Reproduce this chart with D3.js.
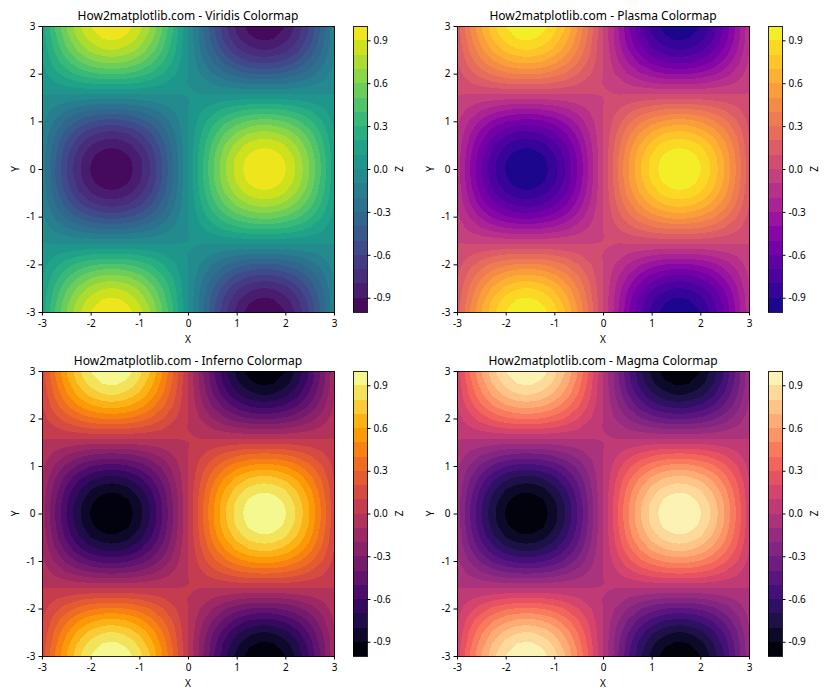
<!DOCTYPE html>
<html><head><meta charset="utf-8">
<script src="https://cdn.jsdelivr.net/npm/d3@7"></script>
<style>
html,body{margin:0;padding:0;background:#fff}
svg{display:block}
text{font-family:"Noto Sans","Open Sans",sans-serif;fill:#000}
</style></head><body><div id="chart"></div>
<script>
// Field on a 25x25 lattice, x and y from -3 to 3 in 0.25 steps.
const rowY300=[.140,.378,.592,.770,.900,.974,.987,.940,.833,.675,.474,.245,0,-.245,-.474,-.675,-.833,-.940,-.987,-.974,-.900,-.770,-.592,-.378,-.140];
const rowY275=[.130,.353,.553,.719,.840,.909,.921,.877,.777,.630,.443,.228,0,-.228,-.443,-.630,-.777,-.877,-.921,-.909,-.840,-.719,-.553,-.353,-.130];
const rowY250=[.113,.306,.479,.623,.728,.788,.799,.760,.674,.546,.384,.198,0,-.198,-.384,-.546,-.674,-.760,-.799,-.788,-.728,-.623,-.479,-.306,-.113];
const rowY225=[.089,.240,.376,.489,.571,.618,.626,.596,.528,.428,.301,.155,0,-.155,-.301,-.428,-.528,-.596,-.626,-.618,-.571,-.489,-.376,-.240,-.089];
const rowY200=[.059,.159,.249,.324,.378,.409,.415,.395,.350,.284,.199,.103,0,-.103,-.199,-.284,-.350,-.395,-.415,-.409,-.378,-.324,-.249,-.159,-.059];
const rowY175=[.025,.068,.106,.138,.162,.175,.177,.169,.150,.121,.085,.044,0,-.044,-.085,-.121,-.150,-.169,-.177,-.175,-.162,-.138,-.106,-.068,-.025];
const rowY150=[-.010,-.027,-.042,-.055,-.065,-.070,-.071,-.067,-.060,-.048,-.034,-.018,0,.018,.034,.048,.060,.067,.071,.070,.065,.055,.042,.027,.010];
const rowY125=[-.044,-.120,-.188,-.245,-.286,-.310,-.314,-.299,-.265,-.215,-.151,-.078,0,.078,.151,.215,.265,.299,.314,.310,.286,.245,.188,.120,.044];
const rowY100=[-.076,-.206,-.323,-.420,-.491,-.531,-.538,-.512,-.454,-.368,-.259,-.133,0,.133,.259,.368,.454,.512,.538,.531,.491,.420,.323,.206,.076];
const rowY075=[-.103,-.280,-.438,-.569,-.665,-.720,-.730,-.695,-.616,-.499,-.351,-.181,0,.181,.351,.499,.616,.695,.730,.720,.665,.569,.438,.280,.103];
const rowY050=[-.124,-.335,-.525,-.683,-.798,-.864,-.875,-.833,-.738,-.599,-.421,-.217,0,.217,.421,.599,.738,.833,.875,.864,.798,.683,.525,.335,.124];
const rowY025=[-.137,-.370,-.579,-.754,-.881,-.953,-.966,-.920,-.815,-.661,-.464,-.239,0,.239,.464,.661,.815,.920,.966,.953,.881,.754,.579,.370,.137];
const rowY000=[-.141,-.382,-.598,-.778,-.909,-.984,-.997,-.949,-.841,-.682,-.479,-.247,0,.247,.479,.682,.841,.949,.997,.984,.909,.778,.598,.382,.141];
const zRows=[rowY300,rowY275,rowY250,rowY225,rowY200,rowY175,rowY150,rowY125,rowY100,rowY075,rowY050,rowY025,rowY000,
             rowY025,rowY050,rowY075,rowY100,rowY125,rowY150,rowY175,rowY200,rowY225,rowY250,rowY275,rowY300];

const levels=[-1,-.9,-.8,-.7,-.6,-.5,-.4,-.3,-.2,-.1,0,.1,.2,.3,.4,.5,.6,.7,.8,.9,1];
const axisTicks=[-3,-2,-1,0,1,2,3];
const colorbarTicks=[-.9,-.6,-.3,0,.3,.6,.9];
const titles=["How2matplotlib.com - Viridis Colormap","How2matplotlib.com - Plasma Colormap","How2matplotlib.com - Inferno Colormap","How2matplotlib.com - Magma Colormap"];
const ramps=[d3.interpolateViridis,d3.interpolatePlasma,d3.interpolateInferno,d3.interpolateMagma];
const columnLefts=[42,457];
const rowTops=[26,371];
const plotW=292, plotH=[286,285], barGap=19, barW=14;

const svg=d3.select("#chart").append("svg").attr("width",840).attr("height",700);
const nx=zRows[0].length, ny=zRows.length;
const field=d3.merge(zRows);
const bands=d3.pairs(levels);
const contourSets=d3.contours().size([nx,ny]).thresholds(levels.slice(0,-1))(field);

titles.forEach((title,k)=>{
  const left=columnLefts[k%2], top=rowTops[k>>1], h=plotH[k>>1];
  const x=d3.scaleLinear().domain([-3,3]).range([left,left+plotW]);
  const y=d3.scaleLinear().domain([-3,3]).range([top+h,top]);
  // d3.contours places lattice point i at i+0.5
  const gx=d3.scaleLinear().domain([.5,nx-.5]).range(x.domain());
  const gy=d3.scaleLinear().domain([.5,ny-.5]).range(y.domain());
  const ringLine=d3.line().x(p=>x(gx(p[0]))).y(p=>y(gy(p[1]))).curve(d3.curveCatmullRomClosed.alpha(.5));
  const smoothPath=c=>c.coordinates.map(poly=>poly.map(ring=>{
    const pts=ring.slice(0,-1).filter((p,i,a)=>{const q=a[(i+a.length-1)%a.length];return p[0]!==q[0]||p[1]!==q[1];});
    return ringLine(pts);
  }).join("")).join("");
  const color=d3.scaleSequential(ramps[k]).domain([-1,1]);
  const g=svg.append("g");
  const clipId="clip"+k;
  g.append("clipPath").attr("id",clipId).append("rect")
    .attr("x",left).attr("y",top).attr("width",plotW+1).attr("height",h+1);
  g.append("g").attr("clip-path",`url(#${clipId})`).selectAll("path").data(contourSets).join("path")
    .attr("d",smoothPath).attr("fill-rule","evenodd").attr("fill",(d,i)=>color((bands[i][0]+bands[i][1])/2))
    .attr("shape-rendering","crispEdges");

  const xAxis=d3.axisBottom(x).tickValues(axisTicks).tickFormat(String).tickSize(3.5).tickPadding(4.5);
  const yAxis=d3.axisLeft(y).tickValues(axisTicks).tickFormat(String).tickSize(3.5).tickPadding(3);
  const ax=g.append("g").attr("transform",`translate(0,${top+h})`).call(xAxis);
  const ay=g.append("g").attr("transform",`translate(${left},0)`).call(yAxis);
  [ax,ay].forEach(a=>{a.select(".domain").remove();a.selectAll("text").attr("font-size",10);a.attr("font-family",null);});
  g.append("rect").attr("x",left+.5).attr("y",top+.5).attr("width",plotW).attr("height",h)
    .attr("fill","none").attr("stroke","#000").attr("stroke-width",1).attr("stroke-opacity",.85);

  g.append("text").attr("x",left+plotW/2).attr("y",top-6).attr("text-anchor","middle").attr("font-size",12).text(title);
  g.append("text").attr("x",left+plotW/2).attr("y",top+h+31).attr("text-anchor","middle").attr("font-size",10).text("X");
  g.append("text").attr("transform",`translate(${left-23},${top+h/2}) rotate(-90)`).attr("text-anchor","middle").attr("font-size",10).text("Y");

  // colorbar
  const barLeft=left+plotW+barGap;
  const cy=d3.scaleLinear().domain([-1,1]).range([top+h,top]);
  g.append("g").selectAll("rect").data(bands).join("rect")
    .attr("x",barLeft).attr("width",barW)
    .attr("y",d=>cy(d[1])).attr("height",d=>cy(d[0])-cy(d[1]))
    .attr("fill",d=>color((d[0]+d[1])/2)).attr("shape-rendering","crispEdges");
  const cAxis=d3.axisRight(cy).tickValues(colorbarTicks).tickFormat(d=>d.toFixed(1)).tickSize(3.5).tickPadding(3);
  const ac=g.append("g").attr("transform",`translate(${barLeft+barW},0)`).call(cAxis);
  ac.select(".domain").remove();
  ac.selectAll("text").attr("font-size",10);
  ac.attr("font-family",null);
  g.append("rect").attr("x",barLeft+.5).attr("y",top+.5).attr("width",barW).attr("height",h)
    .attr("fill","none").attr("stroke","#000").attr("stroke-width",1).attr("stroke-opacity",.85);
  g.append("text").attr("transform",`translate(${barLeft+50},${top+h/2}) rotate(-90)`).attr("text-anchor","middle").attr("font-size",10).text("Z");
});
</script></body></html>
